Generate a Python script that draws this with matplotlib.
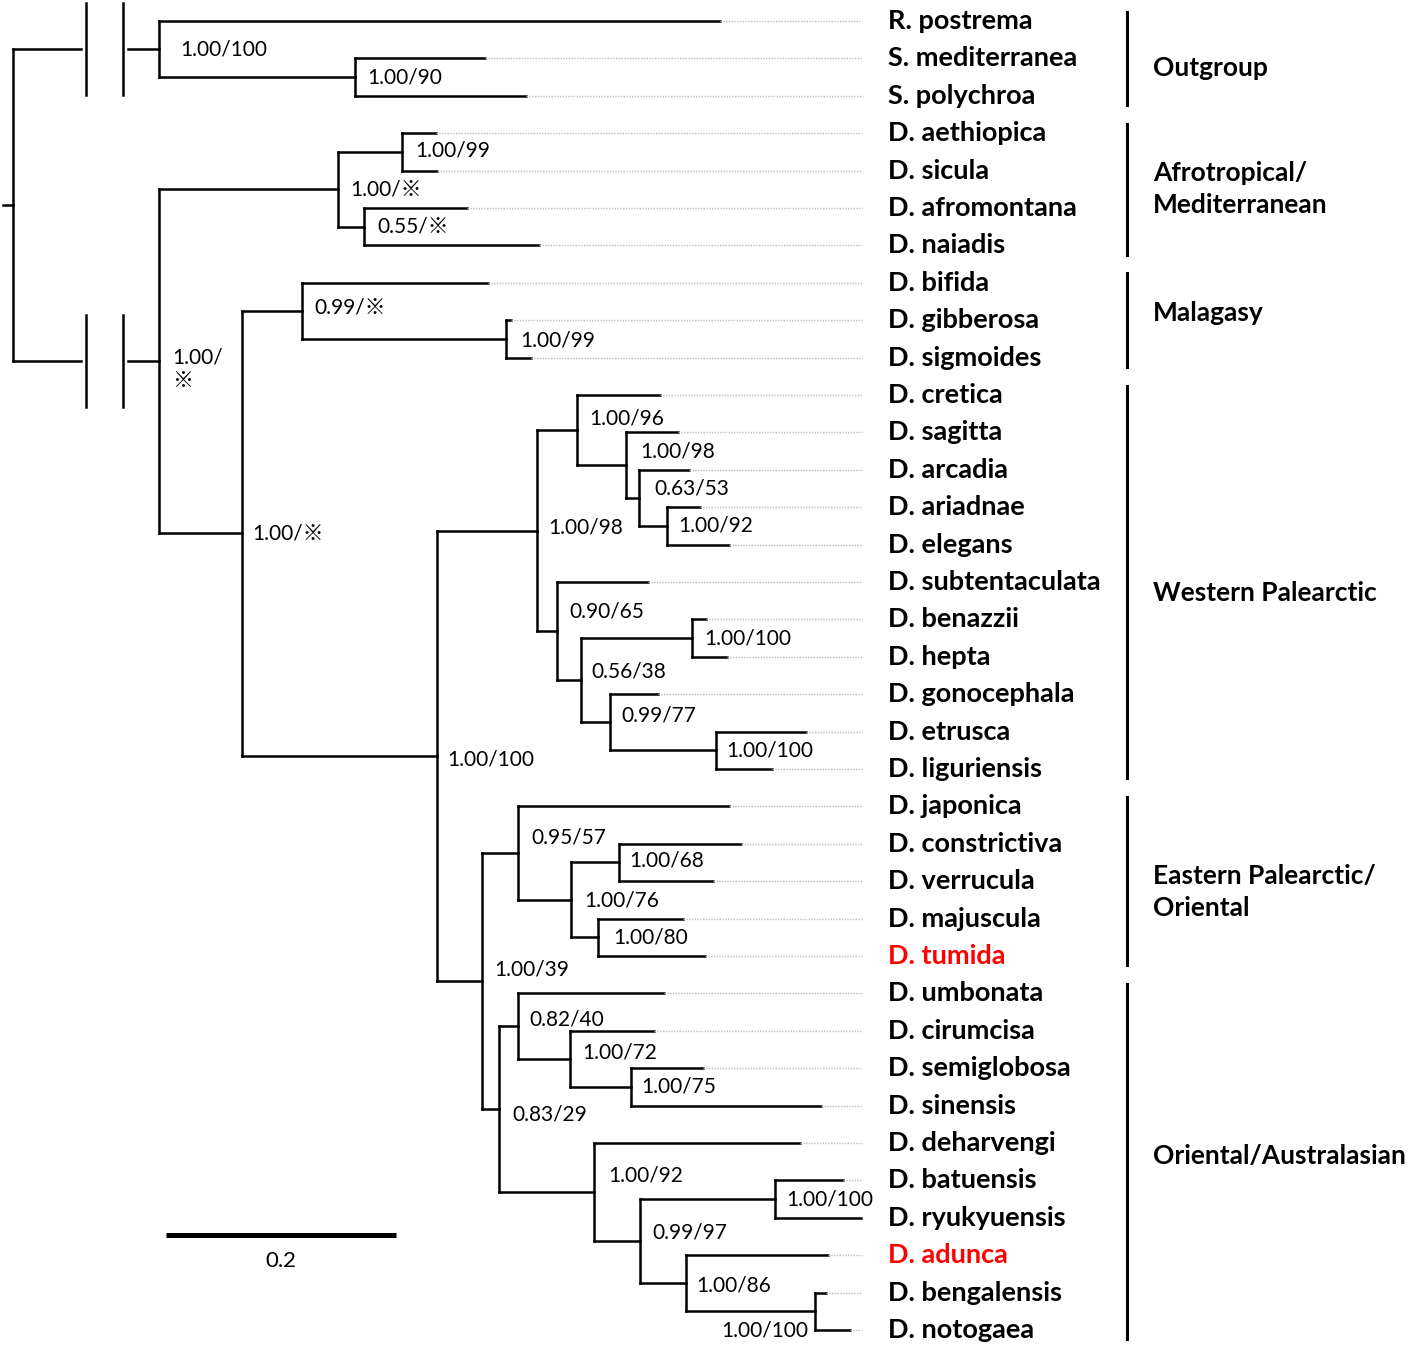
import matplotlib.pyplot as plt

# ---- data -------------------------------------------------------------
taxa = ["R. postrema", "S. mediterranea", "S. polychroa",
        "D. aethiopica", "D. sicula", "D. afromontana", "D. naiadis",
        "D. bifida", "D. gibberosa", "D. sigmoides",
        "D. cretica", "D. sagitta", "D. arcadia", "D. ariadnae", "D. elegans",
        "D. subtentaculata", "D. benazzii", "D. hepta", "D. gonocephala",
        "D. etrusca", "D. liguriensis",
        "D. japonica", "D. constrictiva", "D. verrucula", "D. majuscula", "D. tumida",
        "D. umbonata", "D. cirumcisa", "D. semiglobosa", "D. sinensis",
        "D. deharvengi", "D. batuensis", "D. ryukyuensis", "D. adunca",
        "D. bengalensis", "D. notogaea"]

# tip depth (substitutions/site from root, outgroup/ingroup stems shortened)
tip_depth = [0.615, 0.410, 0.446,
             0.368, 0.369, 0.395, 0.457,
             0.413, 0.433, 0.450,
             0.563, 0.578, 0.588, 0.597, 0.623,
             0.552, 0.603, 0.621, 0.561, 0.690, 0.660,
             0.623, 0.633, 0.609, 0.583, 0.602,
             0.566, 0.557, 0.600, 0.703,
             0.684, 0.722, 0.737, 0.709, 0.707, 0.728]

highlight = ["D. tumida", "D. adunca"]

# internal nodes: id -> (depth, support, children)
nodes = {
    "root": (0.0, "", ["outgroup", "ingroup"]),
    "outgroup": (0.127, "1.00/100", ["R. postrema", "sn"]),
    "sn": (0.297, "1.00/90", ["S. mediterranea", "S. polychroa"]),
    "ingroup": (0.127, "1.00/\n※", ["afro", "rest"]),
    "afro": (0.283, "1.00/※", ["as", "an"]),
    "as": (0.338, "1.00/99", ["D. aethiopica", "D. sicula"]),
    "an": (0.305, "0.55/※", ["D. afromontana", "D. naiadis"]),
    "rest": (0.199, "1.00/※", ["mal", "big"]),
    "mal": (0.251, "0.99/※", ["D. bifida", "gs"]),
    "gs": (0.429, "1.00/99", ["D. gibberosa", "D. sigmoides"]),
    "big": (0.369, "1.00/100", ["wp", "east"]),
    "wp": (0.456, "1.00/98", ["a1", "b1"]),
    "a1": (0.490, "1.00/96", ["D. cretica", "a2"]),
    "a2": (0.533, "1.00/98", ["D. sagitta", "a3"]),
    "a3": (0.544, "0.63/53", ["D. arcadia", "a4"]),
    "a4": (0.569, "1.00/92", ["D. ariadnae", "D. elegans"]),
    "b1": (0.473, "0.90/65", ["D. subtentaculata", "b2"]),
    "b2": (0.494, "0.56/38", ["bh", "b3"]),
    "bh": (0.590, "1.00/100", ["D. benazzii", "D. hepta"]),
    "b3": (0.519, "0.99/77", ["D. gonocephala", "el"]),
    "el": (0.611, "1.00/100", ["D. etrusca", "D. liguriensis"]),
    "east": (0.408, "1.00/39", ["c1", "d1"]),
    "c1": (0.439, "0.95/57", ["D. japonica", "c2"]),
    "c2": (0.485, "1.00/76", ["cv", "mt"]),
    "cv": (0.527, "1.00/68", ["D. constrictiva", "D. verrucula"]),
    "mt": (0.509, "1.00/80", ["D. majuscula", "D. tumida"]),
    "d1": (0.423, "0.83/29", ["d2", "d5"]),
    "d2": (0.439, "0.82/40", ["D. umbonata", "d3"]),
    "d3": (0.484, "1.00/72", ["D. cirumcisa", "ss"]),
    "ss": (0.537, "1.00/75", ["D. semiglobosa", "D. sinensis"]),
    "d5": (0.505, "1.00/92", ["D. deharvengi", "d6"]),
    "d6": (0.545, "0.99/97", ["br", "d7"]),
    "br": (0.663, "1.00/100", ["D. batuensis", "D. ryukyuensis"]),
    "d7": (0.585, "1.00/86", ["D. adunca", "bn"]),
    "bn": (0.697, "1.00/100", ["D. bengalensis", "D. notogaea"]),
}

groups = ["Outgroup", "Afrotropical/\nMediterranean", "Malagasy",
          "Western Palearctic", "Eastern Palearctic/\nOriental",
          "Oriental/Australasian"]
group_first = ["R. postrema", "D. aethiopica", "D. bifida", "D. cretica",
               "D. japonica", "D. umbonata"]
group_last = ["S. polychroa", "D. naiadis", "D. sigmoides", "D. liguriensis",
              "D. tumida", "D. notogaea"]

scale_len = 0.2

# ---- layout / style ---------------------------------------------------
LW = 1.8
# support label nudges in pixels (right, down); default (12, 0)
nudge = {"outgroup": (21, 0), "sn": (13, 0), "ingroup": (13, 8), "as": (14, -1),
         "an": (14, 0), "rest": (10, 0), "mal": (13, -3), "gs": (14, 2),
         "big": (10, 4), "wp": (11, -3), "a1": (13, -12), "a2": (14, -14),
         "a3": (16, -9), "a4": (11, 0), "b1": (12, -20), "b2": (10, -9),
         "bh": (13, 0), "b3": (12, -7), "el": (11, 0), "east": (12, -12),
         "c1": (14, -16), "c2": (14, 1), "cv": (10, -2), "mt": (15, 0),
         "d1": (13, 5), "d2": (12, -7), "d3": (13, -6), "ss": (11, 0),
         "d5": (15, -17), "br": (11, 0), "d6": (13, -9), "d7": (11, 2),
         "bn": (-6, 19)}
group_shift = [0.25, 0.0, -0.2, 0.3, 0.3, -0.15]
brk = (0.0635, 0.0957)
gap = 0.004
guide_end = 0.738
name_x = 0.761
bar_x = 0.969
glabel_x = 0.991
FONT = ["Lato", "Noto Sans CJK JP", "DejaVu Sans"]

plt.rcParams['font.family'] = FONT

fig = plt.figure(figsize=(14.16, 13.45), dpi=100)
ax = fig.add_axes([0, 0, 1, 1])
ax.set_xlim(-13 / 1150, 1403 / 1150)
ax.set_ylim(1324 / 37.4, -21 / 37.4)
ax.axis('off')


def ypos(n):
    if n in taxa:
        return taxa.index(n)
    kids = nodes[n][2]
    return (ypos(kids[0]) + ypos(kids[-1])) / 2


def depth(n):
    if n in taxa:
        return tip_depth[taxa.index(n)]
    return nodes[n][0]


def seg(x0, x1, y0, y1, lw=LW, color='black'):
    ax.plot([x0, x1], [y0, y1], color=color, lw=lw, solid_capstyle='projecting')


for nid, (d, sup, kids) in nodes.items():
    ys = [ypos(k) for k in kids]
    seg(d, d, min(ys), max(ys))
    for k, yk in zip(kids, ys):
        if nid == "root":
            # broken stems
            seg(d, brk[0] - gap, yk, yk)
            seg(brk[1] + gap, depth(k), yk, yk)
            for b in brk:
                seg(b, b, yk - 1.23, yk + 1.23)
        else:
            seg(d, depth(k), yk, yk)
    if sup:
        dx, dy = nudge.get(nid, (12, 0))
        ax.annotate(sup, (d, ypos(nid)), xytext=(dx, -dy), textcoords='offset pixels',
                    ha='right' if dx < 0 else 'left', va='center', fontsize=15,
                    linespacing=1.25)

# root stub
seg(-0.009, 0, ypos("root"), ypos("root"))

# tip guides and names
for i, name in enumerate(taxa):
    if tip_depth[i] < guide_end - 0.003:
        ax.plot([tip_depth[i], guide_end], [i, i], color='#bdbdbd', lw=1,
                linestyle=(0, (1, 1)))
    ax.text(name_x, i, name, ha='left', va='center', fontsize=19.5, fontweight='bold',
            color='#ff0000' if name in highlight else 'black')

# group bars
for g, f, l, sh in zip(groups, group_first, group_last, group_shift):
    y0, y1 = taxa.index(f), taxa.index(l)
    ax.plot([bar_x, bar_x], [y0 - 0.25, y1 + 0.25], color='black', lw=2.2)
    ax.text(glabel_x, (y0 + y1) / 2 + sh, g, ha='left', va='center', fontsize=19,
            fontweight='bold', linespacing=1.4)

# scale bar
sb_x, sb_y = 0.133, 32.46
ax.plot([sb_x, sb_x + scale_len], [sb_y, sb_y], color='black', lw=3.6,
        solid_capstyle='butt')
ax.text(sb_x + scale_len / 2, sb_y + 0.7, f"{scale_len}", ha='center', va='center',
        fontsize=16)

fig.savefig('out.png', dpi=100)
